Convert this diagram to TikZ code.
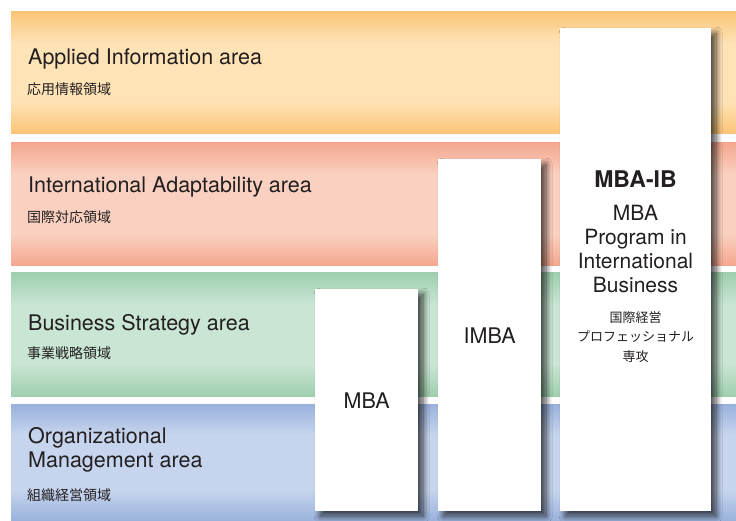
\documentclass[tikz,border=0pt]{standalone}
\usepackage{fontspec}
\setmainfont{TeX Gyre Heros}
\newfontfamily\jp{Noto Sans CJK JP}
\usepackage{tikz}
\usetikzlibrary{positioning,calc,shadows.blur}

\definecolor{orangedark}{HTML}{FBC477}
\definecolor{orangelight}{HTML}{FEE3B6}
\definecolor{salmondark}{HTML}{F4A78F}
\definecolor{salmonlight}{HTML}{FAD1C0}
\definecolor{greendark}{HTML}{9FCFAE}
\definecolor{greenlight}{HTML}{C9E5D3}
\definecolor{bluedark}{HTML}{9AB2DC}
\definecolor{bluelight}{HTML}{C6D4ED}
\definecolor{textgray}{HTML}{231F20}

\pgfdeclareverticalshading{orangeband}{100bp}{color(0bp)=(orangedark); color(25bp)=(orangedark); color(38bp)=(orangelight); color(62bp)=(orangelight); color(75bp)=(orangedark); color(100bp)=(orangedark)}
\pgfdeclareverticalshading{salmonband}{100bp}{color(0bp)=(salmondark); color(25bp)=(salmondark); color(38bp)=(salmonlight); color(62bp)=(salmonlight); color(75bp)=(salmondark); color(100bp)=(salmondark)}
\pgfdeclareverticalshading{greenband}{100bp}{color(0bp)=(greendark); color(25bp)=(greendark); color(38bp)=(greenlight); color(62bp)=(greenlight); color(75bp)=(greendark); color(100bp)=(greendark)}
\pgfdeclareverticalshading{blueband}{100bp}{color(0bp)=(bluedark); color(25bp)=(bluedark); color(38bp)=(bluelight); color(62bp)=(bluelight); color(75bp)=(bluedark); color(100bp)=(bluedark)}

\tikzset{
  band/.style={rectangle, inner sep=0pt, minimum width=725pt},
  column/.style={rectangle, fill=white, inner sep=0pt, anchor=north west, text=textgray,
    font=\fontsize{21.5}{24}\selectfont,
    blur shadow={shadow xshift=5pt, shadow yshift=-5pt, shadow blur radius=6pt, shadow blur steps=12, shadow opacity=70}},
  area/.style={inner sep=0pt, text=textgray, font=\fontsize{21.5}{24}\selectfont},
  areajp/.style={anchor=west, inner sep=0pt, text=textgray, font=\jp\fontsize{14}{16}\selectfont}
}

\begin{document}
\begin{tikzpicture}[x=1pt,y=-1pt]
		\useasboundingbox (0,0) rectangle (736,521);
		% the four areas
		\node at (11,11) [band, shading=orangeband, minimum height=122pt, anchor=north west] (applied) {};
		\node[band, shading=salmonband, minimum height=123pt] (intl) [below=9pt of applied] {};
		\node[band, shading=greenband, minimum height=123pt] (strategy) [below=7pt of intl] {};
		\node[band, shading=blueband, minimum height=116pt] (orgmgmt) [below=8pt of strategy] {};

		\node at (28,65) [area, anchor=base west] (appliedtxt) {Applied Information area};
		\node at (27,89) [areajp] (appliedjp) {応用情報領域};
		\node at (28,193) [area, anchor=base west] (intltxt) {International Adaptability area};
		\node at (27,217) [areajp] (intljp) {国際対応領域};
		\node at (28,330) [area, anchor=base west] (strategytxt) {Business Strategy area};
		\node at (27,353) [areajp] (strategyjp) {事業戦略領域};
		\node at (28,427) [area, anchor=north west, align=left] (orgmgmttxt) {Organizational\\Management area};
		\node at (27,495) [areajp] (orgmgmtjp) {組織経営領域};

		% the programs
		\node at (315,289) [column, minimum width=103pt, minimum height=222pt] (mba) {MBA};
		\node at (438,159) [column, minimum width=103pt, minimum height=352pt] (imba) {IMBA};
		\node at (560,28) [column, minimum width=151pt, minimum height=483pt] (mbaib) {};
		\node at (635.5,171) [area, anchor=north, align=center, font=\fontsize{21}{24}\selectfont] (mbaibtxt)
			{{\bfseries\fontsize{23}{24}\selectfont MBA-IB}\\[9pt]MBA\\Program in\\International\\Business};
		\node at (635.5,311) [inner sep=0pt, anchor=north, align=center, text=textgray, font=\jp\fontsize{13}{19.5}\selectfont] (mbaibjp)
			{国際経営\\プロフェッショナル\\専攻};
\end{tikzpicture}
\end{document}
